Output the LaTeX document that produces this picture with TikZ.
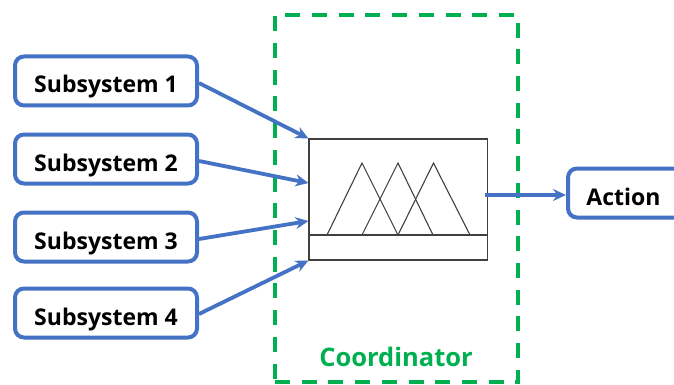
\documentclass[tikz,border=0pt]{standalone}
\usepackage{fontspec}
\setmainfont{Open Sans}
\usetikzlibrary{arrows.meta,positioning}
\definecolor{boxblue}{HTML}{4472C4}
\definecolor{coordgreen}{HTML}{00B050}
\tikzstyle{subsys} = [draw=boxblue,line width=4pt,rounded corners=9pt,fill=white,minimum width=182pt,minimum height=49pt,inner sep=0,text height=24pt,text depth=0pt,font=\fontsize{23}{27}\selectfont\bfseries]
\tikzstyle{link} = [-{Stealth[length=13pt,width=12pt]},draw=boxblue,line width=3.8pt]
\tikzstyle{fine} = [draw=black!75,line width=1.1pt]
\begin{document}
\begin{tikzpicture}[x=1pt,y=-1pt,node distance=25pt]
      \useasboundingbox (0,0) rectangle (674,385);
      \clip (0,0) rectangle (674,385);
      \node[draw=coordgreen,line width=3.5pt,dash pattern=on 15pt off 11.7pt,minimum width=243pt,minimum height=367pt,inner sep=0] (coord) at (396.5,198.5) {};
      \node[text=coordgreen,font=\fontsize{25.5}{30}\selectfont\bfseries] (coordlabel) at (396,357) {Coordinator};
      \node[subsys] (s1) at (106,81) {Subsystem 1};
      \node[subsys,below=of s1] (s2) {Subsystem 2};
      \node[subsys,below=of s2] (s3) {Subsystem 3};
      \node[subsys,below=23pt of s3] (s4) {Subsystem 4};
      \node[subsys,minimum width=121pt] (action) at (628.5,193) {\mbox{Action\hspace{10pt}}};
      % fuzzy block
      \node[fine,minimum width=178.5pt,minimum height=121pt,inner sep=0] (fuzzy) at (398.25,199.5) {};
      \coordinate (base1) at (fuzzy.west |- 0,235);
      \coordinate (base2) at (fuzzy.east |- 0,235);
      \draw[fine] (base1) -- (base2);
      \draw[fine] (327,235) -- (362,163) -- (398,235);
      \draw[fine] (362,235) -- (398,163) -- (433,235);
      \draw[fine] (398,235) -- (433.5,163) -- (470,235);
      \coordinate (in2) at (fuzzy.west |- 0,183);
      \coordinate (in3) at (fuzzy.west |- 0,221);
      \coordinate (out) at (485,195);
      \draw[link] (s1.east) ++(0,2) -- (fuzzy.north west);
      \draw[link] (s2.east) ++(0,2) -- (in2);
      \draw[link] (s3.east) ++(0,2) -- (in3);
      \draw[link] (s4.east) ++(0,1) -- (fuzzy.south west);
      \draw[link] (out) -- (action.west |- out);
    \end{tikzpicture}
\end{document}
